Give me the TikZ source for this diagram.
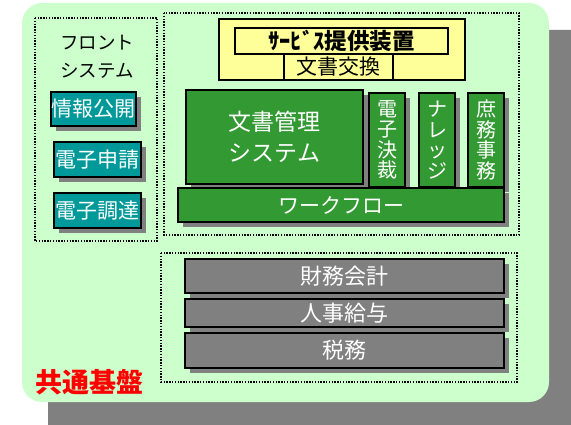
\documentclass[tikz,border=0pt]{standalone}
\usepackage{fontspec}
\setmainfont{Noto Sans CJK JP}
\usetikzlibrary{shadows}
\definecolor{lgreen}{HTML}{CCFFCC}
\definecolor{teal2}{HTML}{009999}
\definecolor{dgreen}{HTML}{339933}
\definecolor{yel}{HTML}{FFFF99}
\definecolor{gry}{HTML}{808080}
\tikzset{
  shbox/.style={draw=black, line width=1.4pt, inner sep=0pt, align=center, text=white,
    drop shadow={shadow xshift=5pt, shadow yshift=-5pt, fill=gry, opacity=1}},
  tealbox/.style={shbox, fill=teal2, font=\fontsize{21}{24}\selectfont},
  greenbox/.style={shbox, fill=dgreen, font=\fontsize{21}{24}\selectfont},
  vbox/.style={shbox, fill=dgreen, font=\fontsize{20}{20.5}\selectfont, minimum width=36pt, minimum height=94pt},
  graybox/.style={shbox, fill=gry, font=\fontsize{22}{24}\selectfont, minimum width=319pt},
  yelbox/.style={draw=black, line width=1.4pt, fill=yel, inner sep=0pt, text=black},
  dotbox/.style={draw=black, line width=1.4pt, dash pattern=on 1.4pt off 1.4pt},
}
\begin{document}
\begin{tikzpicture}[x=1pt,y=-1pt]
\clip (0,0) rectangle (571,425);
% outer shadow and base
\fill[gry, rounded corners=20pt] (48,30) rectangle (600,460);
\fill[lgreen, rounded corners=20pt] (22,3) rectangle (549,402);
% dotted groups
\draw[dotbox] (35,18) rectangle (157,241);
\draw[dotbox] (164,13) rectangle (519,235);
\draw[dotbox] (161,253) rectangle (517,382);
% front system
\node[align=center, font=\fontsize{18.5}{28}\selectfont] (front) at (97,57) {フロント\\システム};
\node[tealbox, minimum width=85pt, minimum height=34pt] (joho) at (93.5,109) {情報公開};
\node[tealbox, minimum width=87pt, minimum height=35pt] (shinsei) at (97.5,159.5) {電子申請};
\node[tealbox, minimum width=87pt, minimum height=35pt] (chotatsu) at (97.5,210.5) {電子調達};
% service box
\node[yelbox, minimum width=246pt, minimum height=61pt] (svc) at (342,49.5) {};
\node[yelbox, minimum width=213pt, minimum height=26pt, font=\bfseries\fontsize{22.5}{24}\selectfont] (svcin) at (341.5,41) {ｻｰﾋﾞｽ提供装置};
\node[yelbox, minimum width=109pt, minimum height=26pt, font=\fontsize{21}{24}\selectfont] (koukan) at (338.5,67) {文書交換};
% document management
\node[greenbox, minimum width=177pt, minimum height=94pt, font=\fontsize{23}{31}\selectfont] (bunsho) at (274.5,137) {文書管理\\システム};
\node[vbox] (kessai) at (387,140) {電\\子\\決\\裁};
\node[vbox] (knowledge) at (437,140) {ナ\\レ\\ッ\\ジ};
\node[vbox] (shomu) at (486,140) {庶\\務\\事\\務};
\node[greenbox, minimum width=326pt, minimum height=34pt] (workflow) at (341,205) {ワークフロー};
% back office
\node[graybox, minimum height=34pt] (zaimu) at (344.5,276) {財務会計};
\node[graybox, minimum height=28pt] (jinji) at (344.5,313) {人事給与};
\node[graybox, minimum height=35pt] (zeimu) at (344.5,350.5) {税務};
% label
\node[text=red, font=\bfseries\fontsize{27}{28}\selectfont] (kyotsu) at (89,382) {共通基盤};
\end{tikzpicture}
\end{document}
